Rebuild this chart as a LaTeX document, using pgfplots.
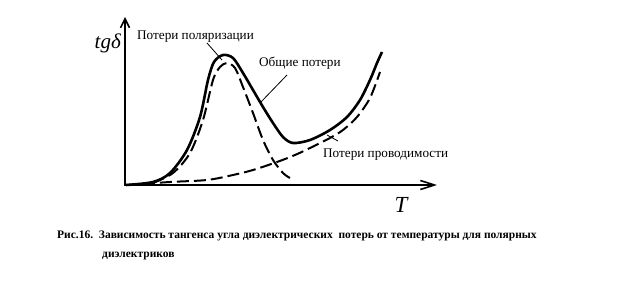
\documentclass[border=0pt]{standalone}
\usepackage{pgfplots}
\pgfplotsset{compat=1.18}
\usepackage{fontspec}
\setmainfont{Liberation Serif}
\usetikzlibrary{arrows.meta}
\begin{document}
\begin{tikzpicture}
\begin{axis}[
  scale only axis, width=640pt, height=289pt,
  xmin=0, xmax=640, ymin=0, ymax=289, y dir=reverse,
  hide axis, clip=false,
]
\path (axis cs:0,0) rectangle (axis cs:640,289);
% axes
\addplot[black, line width=2.2pt, -{Straight Barb[length=9pt,width=9pt,line width=1.6pt]}] coordinates {(125,185) (125,17)};
\addplot[black, line width=2.2pt, -{Straight Barb[length=14pt,width=9pt,line width=1.6pt]}] coordinates {(124,185) (437,185)};
% total losses
\addplot[black, line width=2.6pt, smooth, tension=0.5] coordinates {
(126,185) (153,182) (170,173) (187,150) (200,117) (208,80) (214,62) (223,55) (233,58) (243,73) (253,90) (263,107) (273,123) (283,137) (293,143) (310,140) (330,130) (347,117) (360,100) (370,80) (377,63) (382,52)};
% polarization losses
\addplot[black, line width=2pt, dash pattern=on 12pt off 5pt, smooth, tension=0.5] coordinates {
(153,183) (173,173) (190,153) (203,120) (213,80) (220,67) (227,63) (235,68) (243,87) (253,113) (263,140) (273,160) (283,173) (290,178)};
% conduction losses
\addplot[black, line width=2pt, dash pattern=on 12pt off 5pt, smooth, tension=0.5] coordinates {
(126,185) (170,182) (207,180) (233,175) (253,170) (277,162) (295,155) (310,148) (330,138) (343,130) (357,117) (370,98) (380,72)};
% leader lines
\addplot[black, line width=0.8pt] coordinates {(207,43) (222,60)};
\addplot[black, line width=0.8pt] coordinates {(287,75) (260,103)};
\addplot[black, line width=0.8pt] coordinates {(327,135) (338,141)};
% labels
\node[anchor=west, font=\fontsize{13.2}{15}\selectfont, inner sep=0pt] at (axis cs:137,37) {Потери поляризации};
\node[anchor=west, font=\fontsize{13.2}{15}\selectfont, inner sep=0pt] at (axis cs:259,63) {Общие потери};
\node[anchor=west, font=\fontsize{13.2}{15}\selectfont, inner sep=0pt] at (axis cs:323,155) {Потери проводимости};
\node[anchor=base east, font=\fontsize{21}{23}\selectfont\itshape, inner sep=0pt] at (axis cs:121,48) {tg\itshape δ};
\node[anchor=center, font=\fontsize{23}{25}\selectfont\itshape, inner sep=0pt] at (axis cs:401,205) {T};
\node[anchor=west, font=\fontsize{11.5}{13}\selectfont\bfseries, inner sep=0pt] at (axis cs:57,236) {Рис.16.\ \ Зависимость тангенса угла диэлектрических\ \ потерь от температуры для полярных};
\node[anchor=west, font=\fontsize{11.5}{13}\selectfont\bfseries, inner sep=0pt] at (axis cs:102,256) {диэлектриков};
\end{axis}
\end{tikzpicture}
\end{document}
